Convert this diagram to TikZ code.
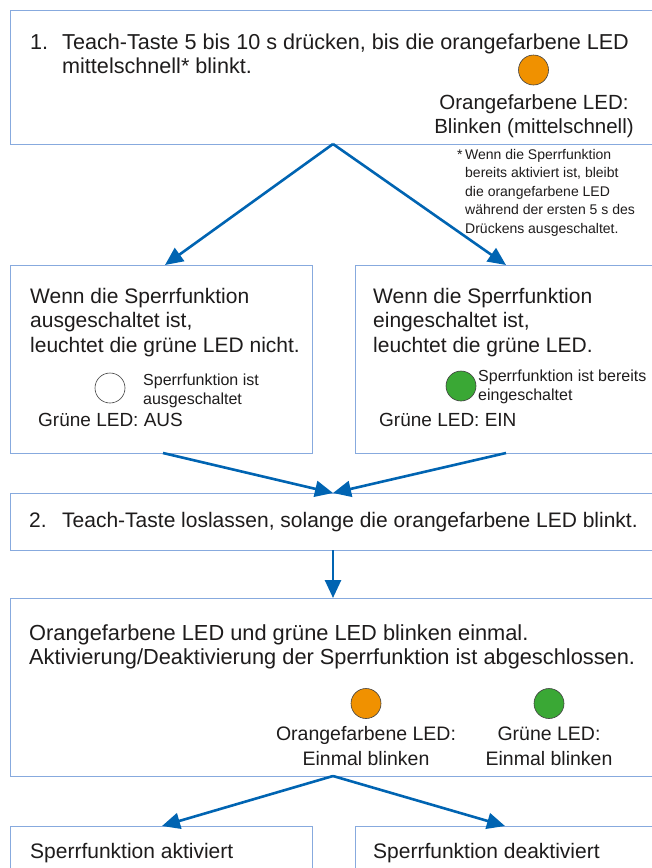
\documentclass[tikz,border=0pt]{standalone}
\usepackage{fontspec}
\setmainfont{Liberation Sans}
\usetikzlibrary{arrows.meta,shapes.geometric}
\definecolor{boxblue}{RGB}{135,170,222}
\definecolor{arrblue}{RGB}{0,100,178}
\definecolor{ledorange}{RGB}{240,145,0}
\definecolor{ledgreen}{RGB}{58,168,53}
\definecolor{txtc}{RGB}{30,28,28}
\begin{document}
\begin{tikzpicture}[x=1pt,y=-1pt,
  box/.style={draw=boxblue, line width=1.3pt, rectangle, anchor=north west, inner sep=0pt},
  bigtxt/.style={anchor=base west, inner sep=0pt, text=txtc, align=left, font=\fontsize{21}{24.5}\selectfont},
  midtxt/.style={anchor=base, inner sep=0pt, text=txtc, align=center, font=\fontsize{20.5}{24}\selectfont},
  ledtxt/.style={anchor=base west, inner sep=0pt, text=txtc, font=\fontsize{19}{23}\selectfont},
  smalltxt/.style={anchor=base west, inner sep=0pt, text=txtc, align=left, font=\fontsize{16}{19}\selectfont},
  notetxt/.style={anchor=base west, inner sep=0pt, text=txtc, align=left, font=\fontsize{14}{18.6}\selectfont},
  flow/.style={draw=arrblue, line width=2.6pt, -{Triangle[length=18pt,width=16pt]}},
  led/.style={ellipse, draw=black!75, line width=0.6pt, minimum width=30pt, minimum height=30pt, inner sep=0pt}]
\useasboundingbox (0,0) rectangle (652,868);
\clip (0,0) rectangle (652,868);
\fill[white] (0,0) rectangle (652,868);

% boxes
\node[box, minimum width=670pt, minimum height=134pt] (b1) at (10,10) {};
\node[box, minimum width=302pt, minimum height=188pt] (bl) at (10,265) {};
\node[box, minimum width=310pt, minimum height=188pt] (br) at (355,265) {};
\node[box, minimum width=670pt, minimum height=57pt] (b2) at (10,493) {};
\node[box, minimum width=670pt, minimum height=178pt] (b3) at (10,598) {};
\node[box, minimum width=302pt, minimum height=60pt] (bal) at (10,826) {};
\node[box, minimum width=310pt, minimum height=60pt] (bar) at (355,826) {};

% box 1 (multi-line nodes are placed at the baseline of their last line)
\node[bigtxt, font=\fontsize{21.6}{24.5}\selectfont] (n1) at (30,49) {1.};
\node[bigtxt, font=\fontsize{21.6}{24.5}\selectfont] (t1) at (62,73.5) {Teach-Taste 5 bis 10 s drücken, bis die orangefarbene LED\\mittelschnell* blinkt.};
\node[led, fill=ledorange] (o1) at (533.5,70) {};
\node[midtxt] (o1l) at (534,133) {Orangefarbene LED:\\Blinken (mittelschnell)};
\node[notetxt] (star) at (457,159) {*};
\node[notetxt] (note) at (465,233.4) {Wenn die Sperrfunktion\\bereits aktiviert ist, bleibt\\die orangefarbene LED\\während der ersten 5 s des\\Drückens ausgeschaltet.};

% left box
\node[bigtxt] (tl) at (30,352) {Wenn die Sperrfunktion\\ausgeschaltet ist,\\leuchtet die grüne LED nicht.};
\node[led, fill=white] (wl) at (110,388) {};
\node[smalltxt] (wls) at (143,404) {Sperrfunktion ist\\ausgeschaltet};
\node[ledtxt] (wll) at (38,426) {Grüne LED: AUS};

% right box
\node[bigtxt] (tr) at (373,352) {Wenn die Sperrfunktion\\eingeschaltet ist,\\leuchtet die grüne LED.};
\node[led, fill=ledgreen] (gr) at (461,386) {};
\node[smalltxt] (grs) at (478,400) {Sperrfunktion ist bereits\\eingeschaltet};
\node[ledtxt] (grl) at (379,426) {Grüne LED: EIN};

% box 2
\node[bigtxt] (n2) at (29,527) {2.};
\node[bigtxt] (t2) at (62,527) {Teach-Taste loslassen, solange die orangefarbene LED blinkt.};

% box 3
\node[bigtxt, font=\fontsize{21.8}{24.5}\selectfont] (t3) at (29,664.5) {Orangefarbene LED und grüne LED blinken einmal.\\Aktivierung/Deaktivierung der Sperrfunktion ist abgeschlossen.};
\node[led, fill=ledorange] (o3) at (366,703.5) {};
\node[led, fill=ledgreen] (g3) at (549,703.5) {};
\node[midtxt, font=\fontsize{19.5}{24.5}\selectfont] (o3l) at (366,765) {Orangefarbene LED:\\Einmal blinken};
\node[midtxt, font=\fontsize{19.5}{24.5}\selectfont] (g3l) at (549,765) {Grüne LED:\\Einmal blinken};

% bottom boxes
\node[bigtxt] (ta) at (30,858) {Sperrfunktion aktiviert};
\node[bigtxt] (td) at (373,858) {Sperrfunktion deaktiviert};

% connector points
\coordinate (c1) at (333,144);
\coordinate (cl1) at (165,265);
\coordinate (cr1) at (506,265);
\coordinate (cl2) at (163,453);
\coordinate (cr2) at (506,453);
\coordinate (c2t) at (333,493);
\coordinate (c2b) at (333,550);
\coordinate (c3t) at (333,598);
\coordinate (c3b) at (333,776);
\coordinate (cal) at (162,826);
\coordinate (car) at (505,826);

\draw[flow] (c1) -- (cl1);
\draw[flow] (c1) -- (cr1);
\draw[flow] (cl2) -- (c2t);
\draw[flow] (cr2) -- (c2t);
\draw[flow] (c2b) -- (c3t);
\draw[flow] (c3b) -- (cal);
\draw[flow] (c3b) -- (car);
\end{tikzpicture}
\end{document}
